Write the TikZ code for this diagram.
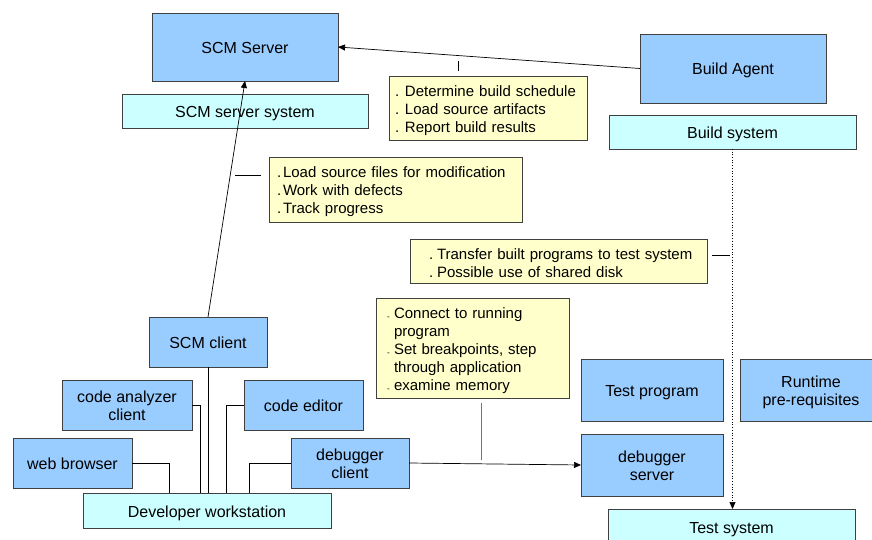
\documentclass[tikz,border=0pt]{standalone}
\usepackage{fontspec}
\setmainfont{Liberation Sans}
\usetikzlibrary{arrows.meta}
\definecolor{boxblue}{HTML}{99CCFF}
\definecolor{syscyan}{HTML}{CCFFFF}
\definecolor{noteyellow}{HTML}{FFFFCC}
\definecolor{edge}{HTML}{404040}
\newcommand{\blt}[1]{\makebox[#1][l]{.}}
\newcommand{\dsh}[1]{\makebox[#1][l]{\raisebox{-1pt}{\fontsize{8}{8}\selectfont -}}}
\newcommand{\twolines}[2]{\begin{tabular}[t]{@{}c@{}}#1\\#2\end{tabular}}
\begin{document}
\begin{tikzpicture}[x=1pt,y=-1pt,
  basebox/.style={draw=edge, line width=0.8pt, inner sep=0pt, outer sep=0pt,
    font=\fontsize{16}{18.5}\selectfont, text height=13pt, text depth=0pt},
  comp/.style={basebox, fill=boxblue},
  comptwo/.style={basebox, fill=boxblue, text depth=18.5pt},
  sys/.style={basebox, fill=syscyan},
  note/.style={draw=edge, line width=0.8pt, fill=noteyellow, inner ysep=0pt, outer sep=0pt,
    align=left, font=\fontsize{15}{18}\selectfont, text height=12.8pt},
  conn/.style={line width=0.7pt, black},
  arr/.style={conn, -{Triangle[length=7pt,width=6pt]}},
  tick/.style={line width=0.7pt, black},
]
\useasboundingbox (0,0) rectangle (872,540);
\clip (0,0) rectangle (872,540);

% systems and components
\node[comp, minimum width=186pt, minimum height=68pt] (scmserver) at (245,47) {SCM Server};
\node[sys, minimum width=246pt, minimum height=34pt] (scmsys) at (245,111) {SCM server system};
\node[comp, minimum width=186pt, minimum height=69pt] (buildagent) at (733,68.5) {Build Agent};
\node[sys, minimum width=247pt, minimum height=34pt] (buildsys) at (732.5,132) {Build system};

\node[comp, minimum width=118pt, minimum height=50pt] (scmclient) at (208,342) {SCM client};
\node[comptwo, minimum width=130pt, minimum height=50pt] (analyzer) at (127,405) {\twolines{code analyzer}{client}};
\node[comp, minimum width=119pt, minimum height=50pt] (editor) at (303.5,405) {code editor};
\node[comp, minimum width=119pt, minimum height=50pt] (browser) at (72.5,463) {web browser};
\node[comptwo, minimum width=118pt, minimum height=50pt] (dbgclient) at (350,463) {\twolines{debugger}{client}};
\node[sys, minimum width=248pt, minimum height=35pt] (devws) at (207,510.5) {Developer workstation};

\node[comp, minimum width=142pt, minimum height=62pt] (testprog) at (652,390) {Test program};
\node[comptwo, minimum width=142pt, minimum height=62pt] (runtime) at (811,390) {\twolines{Runtime}{pre-requisites}};
\node[comptwo, minimum width=142pt, minimum height=62pt] (dbgserver) at (652,465) {\twolines{debugger}{server}};
\node[sys, minimum width=247pt, minimum height=36pt] (testsys) at (731.5,527) {Test system};

% notes
\node[note, inner xsep=6pt, text width=186pt, minimum height=64pt, text depth=36pt] (note1) at (488,108)
  {\mbox{\blt{10pt}Determine build schedule}\\\mbox{\blt{10pt}Load source artifacts}\\\mbox{\blt{10pt}Report build results}};
\node[note, inner xsep=8pt, text width=237pt, minimum height=65pt, text depth=36pt] (note2) at (395.5,189.5)
  {\mbox{\blt{6pt}Load source files for modification}\\\mbox{\blt{6pt}Work with defects}\\\mbox{\blt{6pt}Track progress}};
\node[note, inner xsep=19pt, text width=259pt, minimum height=44pt, text height=14.8pt, text depth=18pt] (note3) at (558.5,261)
  {\mbox{\blt{8pt}Transfer built programs to test system}\\\mbox{\blt{8pt}Possible use of shared disk}};
\node[note, inner xsep=11pt, text width=171pt, minimum height=100pt, text depth=72pt] (note4) at (472.5,348)
  {\mbox{\dsh{7pt}Connect to running}\\\mbox{\hspace*{7pt}program}\\\mbox{\dsh{7pt}Set breakpoints, step}\\\mbox{\hspace*{7pt}through application}\\\mbox{\dsh{7pt}examine memory}};

% connectors
\draw[arr] (buildagent.west) -- (scmserver.east);
\draw[arr] (scmclient.north) -- (scmserver.south);
\draw[arr, dotted] (buildsys.south) -- (buildsys.south |- testsys.north);
\draw[arr] (dbgclient.east) -- (dbgserver.west);

\coordinate (jb) at (169,493);
\coordinate (ja) at (200,493);
\coordinate (je) at (226,493);
\coordinate (jd) at (249,493);
\draw[conn] (scmclient.south) -- (scmclient.south |- devws.north);
\draw[conn] (analyzer.east) -| (ja);
\draw[conn] (editor.west) -| (je);
\draw[conn] (browser.east) -| (jb);
\draw[conn] (dbgclient.west) -| (jd);

% note callout ticks
\coordinate (t1a) at (458,71); \coordinate (t1b) at (458,61);
\draw[tick] (t1a) -- (t1b);
\coordinate (t2a) at (261,175); \coordinate (t2b) at (235,175);
\draw[tick] (t2a) -- (t2b);
\coordinate (t3a) at (712,255); \coordinate (t3b) at (730,255);
\draw[tick] (t3a) -- (t3b);
\coordinate (t4a) at (481,403); \coordinate (t4b) at (481,460);
\draw[tick, draw=black!55] (t4a) -- (t4b);
\end{tikzpicture}
\end{document}
